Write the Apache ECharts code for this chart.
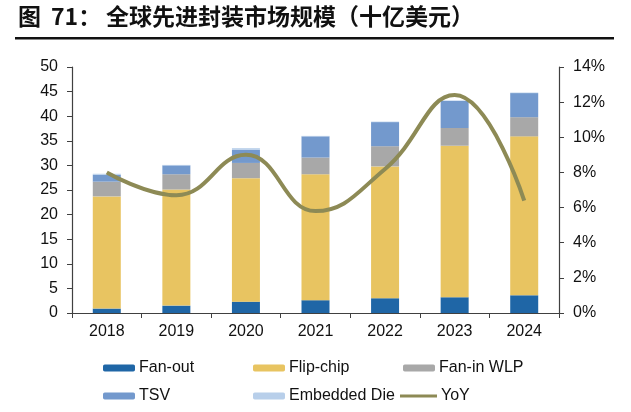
<!DOCTYPE html>
<html>
<head>
<meta charset="utf-8">
<script src="https://cdn.jsdelivr.net/npm/echarts@6.0.0/dist/echarts.min.js"></script>
<style>
html, body { margin: 0; padding: 0; background: #fff; }
#chart { width: 631px; height: 412px; }
</style>
</head>
<body>
<div id="chart"></div>
<script>
// 年份
var years = ['2018', '2019', '2020', '2021', '2022', '2023', '2024'];
// 各封装类型规模（十亿美元）
var fanOut = [0.9, 1.5, 2.3, 2.6, 3.0, 3.2, 3.6];
var flipChip = [22.8, 23.6, 25.1, 25.6, 26.8, 30.8, 32.3];
var fanInWlp = [3.0, 3.1, 3.1, 3.4, 4.1, 3.6, 3.9];
var tsv = [1.4, 1.8, 2.7, 4.3, 4.9, 5.5, 4.9];
var embeddedDie = [0.2, 0.1, 0.3, 0.1, 0.1, 0.1, 0.1];
// 同比增速（%）
var yoy = [8.0, 6.7, 9.0, 5.8, 8.2, 12.4, 6.4];

var colors = {
    fanOut: '#1f66a6',
    flipChip: '#e8c461',
    fanIn: '#a8a8a8',
    tsv: '#7399cd',
    embedded: '#b8cfea',
    yoy: '#8d8a55'
};

var font = 'Liberation Sans, Arial, sans-serif';
var cjkFont = '"Noto Sans CJK SC", sans-serif';
var axisColor = '#404040';

function legendAt(item, left, top, w, h) {
    return {
        data: [item],
        left: left,
        top: top,
        padding: 0,
        itemWidth: w,
        itemHeight: h,
        itemGap: 0,
        selectedMode: false,
        textStyle: {fontFamily: font, fontSize: 16, color: '#111', padding: [0, 0, 0, -1]}
    };
}

function barSeries(name, data, color) {
    return {
        name: name,
        type: 'bar',
        stack: 'total',
        barWidth: 28,
        data: data,
        itemStyle: {color: color},
        emphasis: {disabled: true}
    };
}

var option = {
    animation: false,
    backgroundColor: '#fff',
    graphic: [
        {
            type: 'text',
            left: 18,
            top: 5,
            style: {text: '图', font: 'bold 23px ' + cjkFont, fill: '#111'}
        },
        {
            type: 'text',
            left: 51,
            top: 5,
            style: {text: '71：', font: 'bold 23px ' + cjkFont, fill: '#111'}
        },
        {
            type: 'text',
            left: 106,
            top: 5,
            style: {text: '全球先进封装市场规模（十亿美元）', font: 'bold 23px ' + cjkFont, fill: '#111'}
        },
        {
            type: 'rect',
            shape: {x: 15, y: 37, width: 599, height: 2.5},
            style: {fill: '#111'}
        }
    ],
    legend: [
        legendAt('Fan-out', 103, 360, 32, 7),
        legendAt('Flip-chip', 253, 360, 32, 7),
        legendAt('Fan-in WLP', 403, 360, 32, 7),
        legendAt('TSV', 103, 388, 32, 7),
        legendAt('Embedded Die', 253, 388, 32, 7),
        legendAt({name: 'YoY', icon: 'rect'}, 400, 388, 37, 3)
    ],
    grid: {left: 72, right: 72, top: 67, bottom: 99},
    xAxis: {
        type: 'category',
        data: years,
        axisLine: {lineStyle: {color: axisColor, width: 1.2}},
        axisTick: {show: true, length: 5, lineStyle: {color: axisColor}},
        axisLabel: {fontFamily: font, fontSize: 16, color: '#111', margin: 11}
    },
    yAxis: [
        {
            type: 'value',
            min: 0,
            max: 50,
            interval: 5,
            axisLine: {show: true, lineStyle: {color: axisColor, width: 1.2}},
            axisTick: {show: true, length: 5, lineStyle: {color: axisColor}},
            splitLine: {show: false},
            axisLabel: {fontFamily: font, fontSize: 16, color: '#111', margin: 14}
        },
        {
            type: 'value',
            min: 0,
            max: 14,
            interval: 2,
            position: 'right',
            axisLine: {show: true, lineStyle: {color: axisColor, width: 1.2}},
            axisTick: {show: true, length: 5, lineStyle: {color: axisColor}},
            splitLine: {show: false},
            axisLabel: {fontFamily: font, fontSize: 16, color: '#111', margin: 14, formatter: '{value}%'}
        }
    ],
    series: [
        barSeries('Fan-out', fanOut, colors.fanOut),
        barSeries('Flip-chip', flipChip, colors.flipChip),
        barSeries('Fan-in WLP', fanInWlp, colors.fanIn),
        barSeries('TSV', tsv, colors.tsv),
        barSeries('Embedded Die', embeddedDie, colors.embedded),
        {
            name: 'YoY',
            type: 'line',
            yAxisIndex: 1,
            data: yoy,
            smooth: 0.45,
            symbol: 'none',
            showSymbol: false,
            z: 5,
            lineStyle: {color: colors.yoy, width: 4},
            itemStyle: {color: colors.yoy},
            emphasis: {disabled: true}
        }
    ]
};

var chart = echarts.init(document.getElementById('chart'));
chart.setOption(option);
</script>
</body>
</html>
